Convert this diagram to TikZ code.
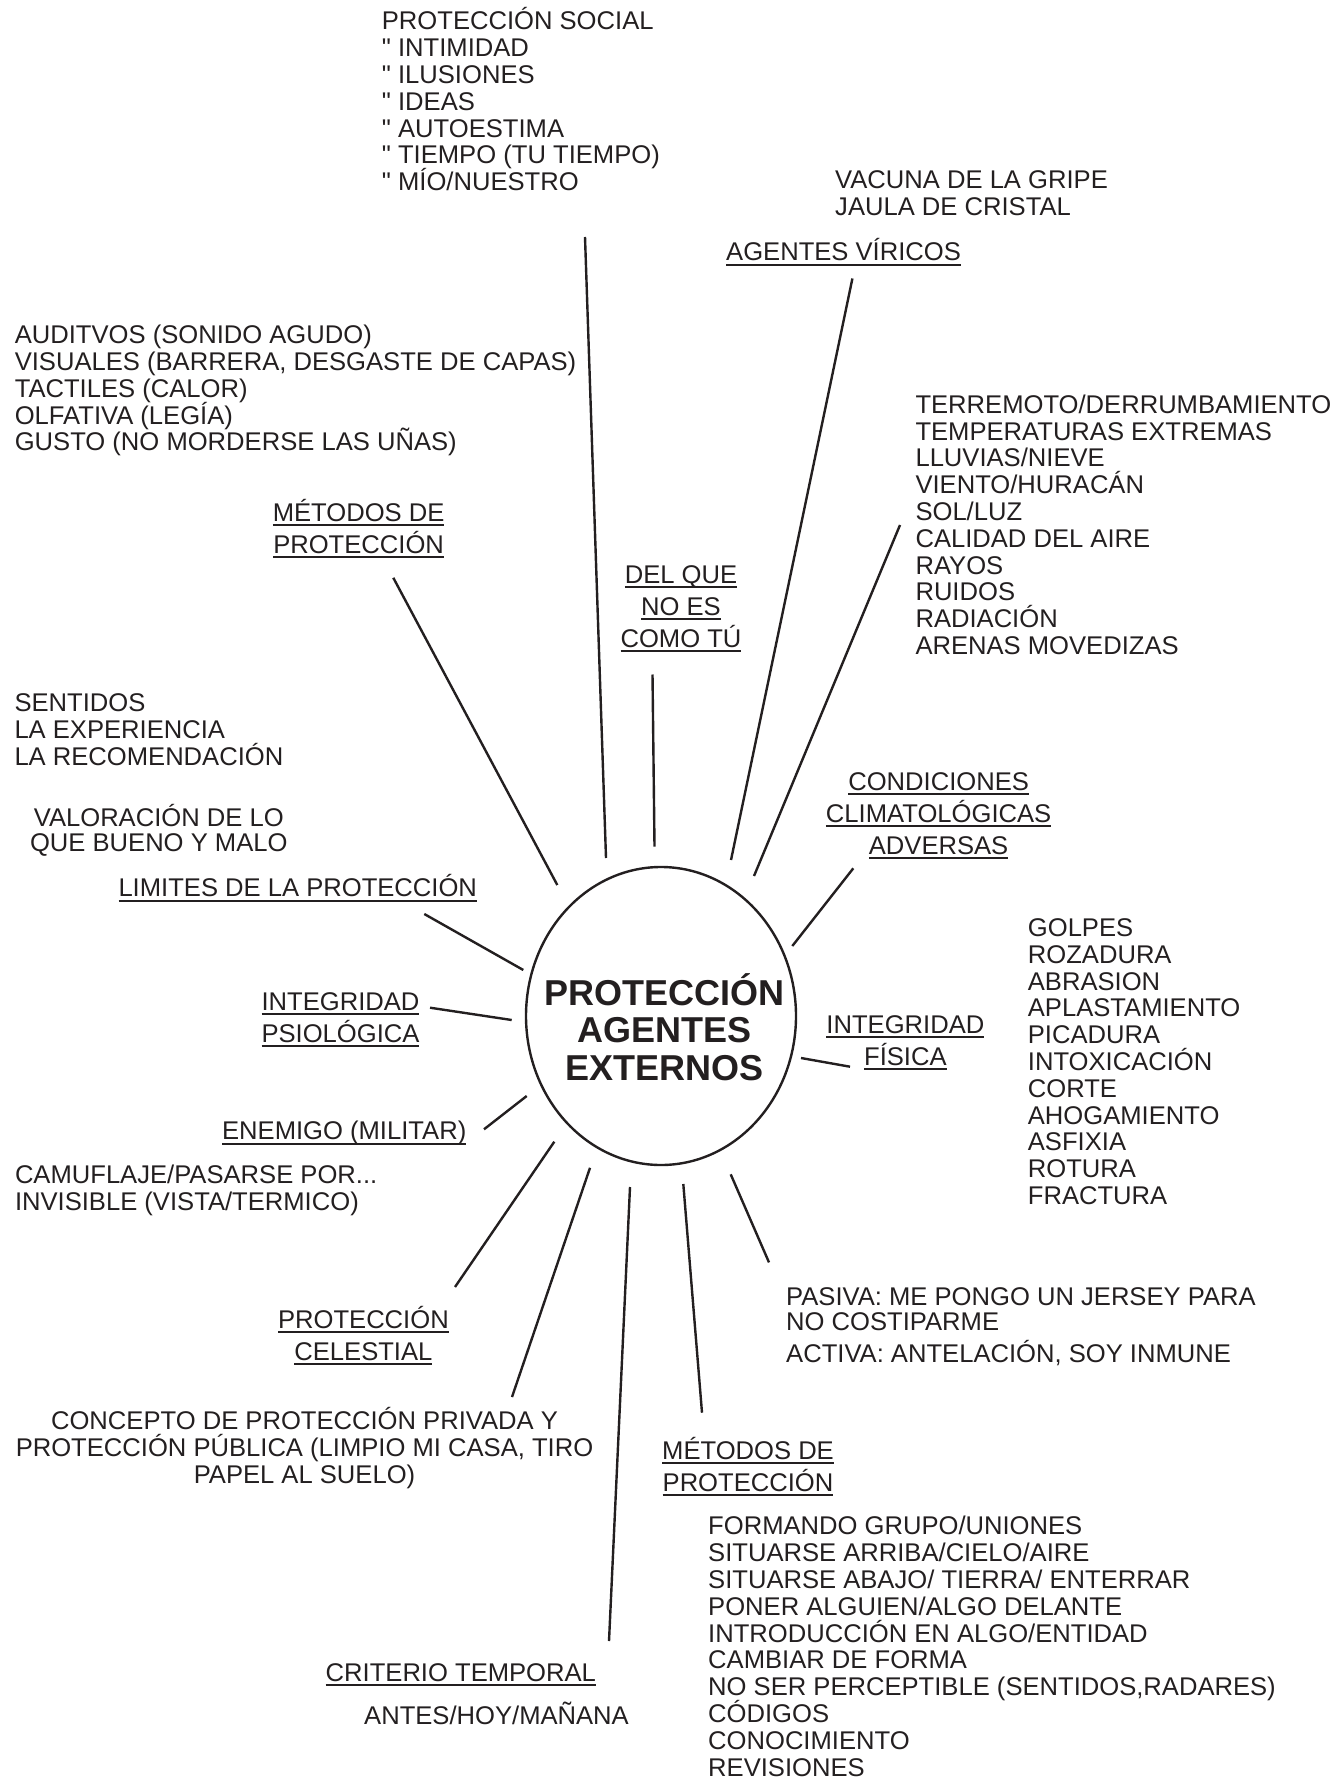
\documentclass[tikz,border=0pt]{standalone}
\usepackage{fontspec}
\setmainfont{Liberation Sans}
\usepackage{tikz}
\usetikzlibrary{shapes.geometric}
\definecolor{tinta}{HTML}{231F20}
\newcommand{\subr}[1]{\leavevmode\setbox0=\hbox{#1}\rlap{\rule[-2.6pt]{\wd0}{0.9pt}}\box0}
\newcommand{\comi}{\textquotedbl\ }
\newcommand{\letra}[2]{\fontsize{#1}{#2}\selectfont\lineskiplimit=-50pt\lineskip=0pt}

\begin{document}
\begin{tikzpicture}[x=0.5pt,y=-0.5pt,-,line width=1.2pt,color=tinta]
  \tikzstyle{lista}=[inner sep=0pt,align=left,anchor=base west,font={\letra{12.8}{13.4}}]
  \tikzstyle{nota}=[inner sep=0pt,align=center,anchor=base,font={\letra{12.8}{13.5}}]
  \tikzstyle{rama}=[inner sep=0pt,align=center,anchor=base,font={\letra{12.8}{16}}]
  \useasboundingbox (0,0) rectangle (1339,1780);

  % centro (base = ultima linea)
  \node[ellipse,draw,inner sep=0pt,minimum width=135pt,minimum height=149pt] (centro) at (661,1016) {};
  \node[inner sep=0pt,align=center,anchor=base,font={\letra{18}{18.75}\bfseries}] (titulo) at (664.5,1080)
    {PROTECCIÓN\\AGENTES\\EXTERNOS};

  % ramas de arriba
  \node[lista] (social) at (380.7,190.8) {PROTECCIÓN SOCIAL\\\comi INTIMIDAD\\\comi ILUSIONES\\\comi IDEAS\\\comi AUTOESTIMA\\\comi TIEMPO (TU TIEMPO)\\\comi MÍO/NUESTRO};
  \node[lista] (gripe) at (834,215.2) {VACUNA DE LA GRIPE\\JAULA DE CRISTAL};
  \node[rama,anchor=base west] (viricos) at (725,261) {\subr{AGENTES VÍRICOS}};
  \node[rama] (delque) at (681,647) {\subr{DEL QUE}\\\subr{NO ES}\\\subr{COMO TÚ}};
  \node[lista] (fenomenos) at (914.3,654.5) {TERREMOTO/DERRUMBAMIENTO\\TEMPERATURAS EXTREMAS\\LLUVIAS/NIEVE\\VIENTO/HURACÁN\\SOL/LUZ\\CALIDAD DEL AIRE\\RAYOS\\RUIDOS\\RADIACIÓN\\ARENAS MOVEDIZAS};
  \node[rama] (condiciones) at (938.6,854) {\subr{CONDICIONES}\\\subr{CLIMATOLÓGICAS}\\\subr{ADVERSAS}};

  % ramas de la izquierda
  \node[lista] (auditivos) at (13.6,451) {AUDITVOS (SONIDO AGUDO)\\VISUALES (BARRERA, DESGASTE DE CAPAS)\\TACTILES (CALOR)\\OLFATIVA (LEGÍA)\\GUSTO (NO MORDERSE LAS UÑAS)};
  \node[rama] (metodosA) at (358.6,553) {\subr{MÉTODOS DE}\\\subr{PROTECCIÓN}};
  \node[lista] (sentidos) at (13.3,765.3) {SENTIDOS\\LA EXPERIENCIA\\LA RECOMENDACIÓN};
  \node[nota,font={\letra{12.8}{12.5}}] (valoracion) at (158.8,851.7) {VALORACIÓN DE LO\\QUE BUENO Y MALO};
  \node[rama,anchor=base west] (limites) at (117.3,896.7) {\subr{LIMITES DE LA PROTECCIÓN}};
  \node[rama] (psiologica) at (340.5,1042) {\subr{INTEGRIDAD}\\\subr{PSIOLÓGICA}};
  \node[rama] (enemigo) at (344.2,1139.3) {\subr{ENEMIGO (MILITAR)}};
  \node[lista] (camuflaje) at (13.8,1210) {CAMUFLAJE/PASARSE POR...\\INVISIBLE (VISTA/TERMICO)};
  \node[rama] (celestial) at (363.4,1360) {\subr{PROTECCIÓN}\\\subr{CELESTIAL}};
  \node[nota] (concepto) at (304.5,1483) {CONCEPTO DE PROTECCIÓN PRIVADA Y\\PROTECCIÓN PÚBLICA (LIMPIO MI CASA, TIRO\\PAPEL AL SUELO)};

  % ramas de la derecha y de abajo
  \node[rama] (fisica) at (905.4,1065) {\subr{INTEGRIDAD}\\\subr{FÍSICA}};
  \node[lista] (golpes) at (1026.7,1204.5) {GOLPES\\ROZADURA\\ABRASION\\APLASTAMIENTO\\PICADURA\\INTOXICACIÓN\\CORTE\\AHOGAMIENTO\\ASFIXIA\\ROTURA\\FRACTURA};
  \node[lista,font={\letra{12.8}{12.6}}] (pasiva) at (785,1362) {PASIVA: ME PONGO UN JERSEY PARA\\NO COSTIPARME\\[3pt]ACTIVA: ANTELACIÓN, SOY INMUNE};
  \node[rama] (metodosB) at (748,1491) {\subr{MÉTODOS DE}\\\subr{PROTECCIÓN}};
  \node[lista] (formas) at (707,1776) {FORMANDO GRUPO/UNIONES\\SITUARSE ARRIBA/CIELO/AIRE\\SITUARSE ABAJO/ TIERRA/ ENTERRAR\\PONER ALGUIEN/ALGO DELANTE\\INTRODUCCIÓN EN ALGO/ENTIDAD\\CAMBIAR DE FORMA\\NO SER PERCEPTIBLE (SENTIDOS,RADARES)\\CÓDIGOS\\CONOCIMIENTO\\REVISIONES};
  \node[rama,anchor=base west] (criterio) at (324.5,1681) {\subr{CRITERIO TEMPORAL}};
  \node[lista] (antes) at (363,1724) {ANTES/HOY/MAÑANA};

  % extremos de los rayos
  \coordinate (social-e) at (585,237);       \coordinate (social-c) at (606,858);
  \coordinate (delque-e) at (652.5,674.5);   \coordinate (delque-c) at (654.5,846.7);
  \coordinate (viricos-e) at (852.4,278.5);  \coordinate (viricos-c) at (731,860);
  \coordinate (fenom-e) at (900,525);        \coordinate (fenom-c) at (754,876);
  \coordinate (cond-e) at (853.3,868.3);     \coordinate (cond-c) at (792.3,946);
  \coordinate (fisica-e) at (850,1066.7);    \coordinate (fisica-c) at (801,1058);
  \coordinate (pasiva-e) at (769,1262.4);    \coordinate (pasiva-c) at (730.7,1174.3);
  \coordinate (metB-e) at (702,1412.7);      \coordinate (metB-c) at (683.3,1184);
  \coordinate (crit-e) at (609,1641);        \coordinate (crit-c) at (630,1187);
  \coordinate (conc-e) at (512,1397);        \coordinate (conc-c) at (590,1167.8);
  \coordinate (cel-e) at (455,1287);         \coordinate (cel-c) at (554.3,1141.7);
  \coordinate (ene-e) at (484,1129.3);       \coordinate (ene-c) at (526.7,1096);
  \coordinate (psi-e) at (430,1007.7);       \coordinate (psi-c) at (511.7,1020);
  \coordinate (lim-e) at (424.3,914);        \coordinate (lim-c) at (523.3,970);
  \coordinate (metA-e) at (393.3,577.8);     \coordinate (metA-c) at (557.3,885);

  \path
  (social-e) edge (social-c)
  (delque-e) edge (delque-c)
  (viricos-e) edge (viricos-c)
  (fenom-e) edge (fenom-c)
  (cond-e) edge (cond-c)
  (fisica-e) edge (fisica-c)
  (pasiva-e) edge (pasiva-c)
  (metB-e) edge (metB-c)
  (crit-e) edge (crit-c)
  (conc-e) edge (conc-c)
  (cel-e) edge (cel-c)
  (ene-e) edge (ene-c)
  (psi-e) edge (psi-c)
  (lim-e) edge (lim-c)
  (metA-e) edge (metA-c);
\end{tikzpicture}
\end{document}
